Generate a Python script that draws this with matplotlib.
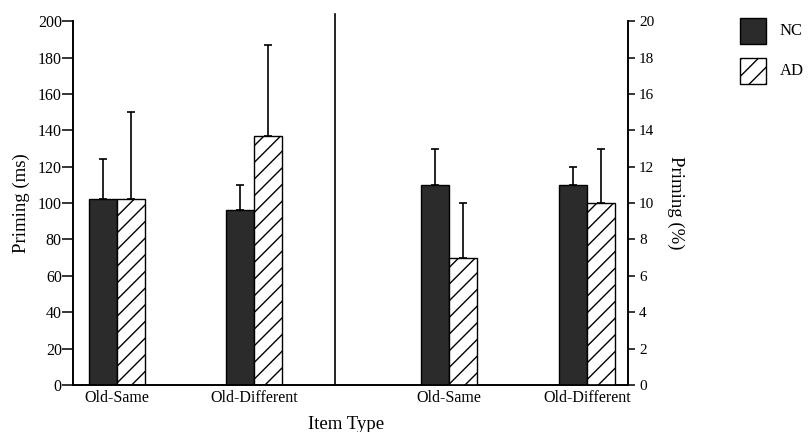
import numpy as np
import matplotlib
matplotlib.use("Agg")
import matplotlib.pyplot as plt
from matplotlib.patches import Rectangle

plt.rcParams['font.family'] = ['Liberation Serif', 'DejaVu Serif']
plt.rcParams['hatch.linewidth'] = 1.0

# data
categories = ["Old-Same", "Old-Different"]
groups = ["NC", "AD"]
# left panel: priming in ms
ms_nc = [102, 96]
ms_nc_err = [22, 14]
ms_ad = [102, 137]
ms_ad_err = [48, 50]
# right panel: priming in %
pct_nc = [11, 11]
pct_nc_err = [2, 1]
pct_ad = [7, 10]
pct_ad_err = [3, 3]

ms_ticks = np.arange(0, 201, 20)
pct_ticks = np.arange(0, 21, 2)

# layout (x in axis fraction units)
centers_left = [0.079, 0.326]
centers_right = [0.677, 0.926]
divider = 0.472
bw = 0.0505

fig = plt.figure(figsize=(8.08, 4.32), dpi=100)
ax = fig.add_axes([0.0903, 0.1088, 0.777 - 0.0903, 0.951 - 0.1088])
ax2 = ax.twinx()

ax.set_xlim(0, 1)
ax.set_ylim(0, 200)
ax2.set_ylim(0, 20)

ekw = dict(ecolor='black', elinewidth=1.2, capsize=3, capthick=1.2)

def draw(a, centers, nc, nce, ad, ade):
    for i, c in enumerate(centers):
        a.bar(c - bw / 2, nc[i], bw, color='#2b2b2b', edgecolor='black', linewidth=1.0, zorder=2)
        a.errorbar(c - bw / 2, nc[i], yerr=[[0], [nce[i]]], fmt='none', zorder=1, **ekw)
        a.bar(c + bw / 2, ad[i], bw, color='white', edgecolor='black', hatch='//', linewidth=1.0, zorder=2)
        a.errorbar(c + bw / 2, ad[i], yerr=[[0], [ade[i]]], fmt='none', zorder=1, **ekw)

draw(ax, centers_left, ms_nc, ms_nc_err, ms_ad, ms_ad_err)
draw(ax2, centers_right, pct_nc, pct_nc_err, pct_ad, pct_ad_err)

# divider line between panels
ax.plot([divider, divider], [0, 204], color='black', lw=1.2, clip_on=False)

for a in (ax, ax2):
    a.spines['top'].set_visible(False)
    for s in a.spines.values():
        s.set_linewidth(1.2)
ax.set_xticks([])
ax.set_yticks(ms_ticks)
ax2.set_yticks(pct_ticks)
ax.tick_params(axis='y', direction='out', length=8, width=1.1, labelsize=11.5, pad=0)
ax2.tick_params(axis='y', direction='out', length=5, width=1.1, labelsize=11, pad=3)

ax.set_ylabel("Priming (ms)", fontsize=13.5, labelpad=6)
ax2.set_ylabel("Priming (%)", fontsize=13.5, rotation=270, labelpad=22)

for c, lab in zip(centers_left + centers_right, categories + categories):
    ax.text(c, -3, lab, ha='center', va='top', fontsize=11.5)
ax.text(0.492, -0.085, "Item Type", transform=ax.transAxes, ha='center', va='top', fontsize=13.5)

# legend boxes
fig.patches.append(Rectangle((740 / 808, 1 - 44 / 432), 26 / 808, 26 / 432, transform=fig.transFigure,
                             facecolor='#2b2b2b', edgecolor='black', lw=1.0))
fig.patches.append(Rectangle((740 / 808, 1 - 84 / 432), 26 / 808, 26 / 432, transform=fig.transFigure,
                             facecolor='white', edgecolor='black', hatch='//', lw=1.0))
fig.text(780 / 808, 1 - 31 / 432, groups[0], va='center', ha='left', fontsize=12)
fig.text(780 / 808, 1 - 71 / 432, groups[1], va='center', ha='left', fontsize=12)

fig.savefig("out.png", dpi=100)
